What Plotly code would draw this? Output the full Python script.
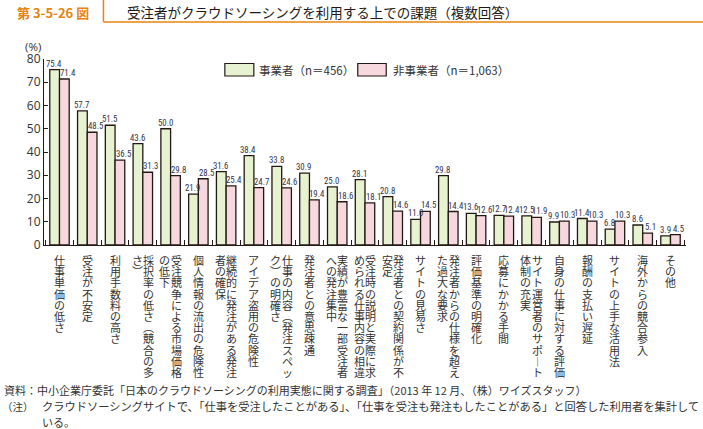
import plotly.graph_objects as go

categories = [
    "仕事単価の低さ", "受注が不安定", "利用手数料の高さ", "採択率の低さ（競合の多さ）",
    "受注競争による市場価格の低下", "個人情報の流出の危険性", "継続的に発注がある発注者の確保",
    "アイデア盗用の危険性", "仕事の内容（発注スペック）の明確さ", "発注者との意思疎通",
    "実績が豊富な一部受注者への発注集中", "受注時の説明と実際に求められる仕事内容の相違",
    "発注者との契約関係が不安定", "サイトの見易さ", "発注者からの仕様を超えた過大な要求",
    "評価基準の明確化", "応募にかかる手間", "サイト運営者のサポート体制の充実",
    "自身の仕事に対する評価", "報酬の支払い遅延", "サイトの上手な活用法",
    "海外からの競合参入", "その他",
]
business = [75.4, 57.7, 51.5, 43.6, 50.0, 21.9, 31.6, 38.4, 33.8, 30.9, 25.0, 28.1,
            20.8, 11.0, 29.8, 13.6, 12.7, 12.5, 9.9, 11.4, 6.8, 8.6, 3.9]
non_business = [71.4, 48.5, 36.5, 31.3, 29.8, 28.5, 25.4, 24.7, 24.6, 19.4, 18.6, 18.1,
                14.6, 14.5, 14.4, 12.6, 12.4, 11.9, 10.3, 10.3, 10.3, 5.1, 4.5]
series_names = ["事業者（n＝456）", "非事業者（n＝1,063）"]
y_ticks = [0, 10, 20, 30, 40, 50, 60, 70, 80]

GREEN = "#E7F2D0"
PINK = "#F8D8DF"
EDGE = "#231815"
ORANGE = "#E8830F"
TXT = "#333333"
VAL = "#34344a"
JP = "Noto Sans CJK JP"
NARROW = "Liberation Sans Narrow, Roboto Condensed, DejaVu Sans Condensed, sans-serif"

W, H = 703, 429
L, R, T, B = 43.5, 17, 59, 184
pw, ph = W - L - R, H - T - B


def px(xv):
    return (xv - L) / pw


def py(yv):
    return (H - B - yv) / ph


fig = go.Figure()
for vals, name, col in [(business, series_names[0], GREEN), (non_business, series_names[1], PINK)]:
    fig.add_trace(go.Bar(
        x=categories, y=vals, name=name,
        marker=dict(color=col, line=dict(color=EDGE, width=1.3)),
        showlegend=False, hoverinfo="skip",
    ))

fig.update_layout(
    width=W, height=H,
    margin=dict(l=L, r=R, t=T, b=B, autoexpand=False),
    paper_bgcolor="white", plot_bgcolor="white",
    barmode="group", bargap=0.30, bargroupgap=0,
    font=dict(family=JP, color=TXT),
    xaxis=dict(showline=True, linecolor=EDGE, linewidth=1.2, ticks="inside",
               tickson="boundaries", ticklen=5, tickcolor=EDGE, tickwidth=1.2,
               showticklabels=False, showgrid=False, zeroline=False, automargin=False),
    yaxis=dict(range=[0, 80], tickvals=y_ticks, showline=True, linecolor=EDGE,
               linewidth=1.2, ticks="inside", ticklen=4, tickcolor=EDGE,
               tickfont=dict(family="Open Sans", size=12, color=TXT),
               showgrid=False, zeroline=False, automargin=False),
)

ann = []
# value labels above bars
for vals, xs in [(business, -5.5), (non_business, 8)]:
    for cat, v in zip(categories, vals):
        ann.append(dict(x=cat, y=v, xref="x", yref="y", text=f"{v:.1f}", showarrow=False,
                        xanchor="center", yanchor="bottom", xshift=xs, yshift=-1,
                        font=dict(family=NARROW, size=8.8, color=VAL)))

# vertical category labels: one annotation per column, columns right to left
vert_map = {"（": "︵", "）": "︶", "ー": "︱"}
CHUNK = 11
pitch = 11.2
colsp = 11.5
base_size = pitch / 1.3
for cat in categories:
    chunks = [cat[j:j + CHUNK] for j in range(0, len(cat), CHUNK)]
    n = len(chunks)
    for c, chunk in enumerate(chunks):
        xs = ((n - 1) / 2 - c) * colsp
        txt = "<br>".join(f"<span style='font-size:11px'>{vert_map.get(ch, ch)}</span>" for ch in chunk)
        ann.append(dict(x=cat, xref="x", y=0, yref="paper", text=txt,
                        showarrow=False, xanchor="center", yanchor="top", align="center",
                        xshift=xs, yshift=-5,
                        font=dict(family=JP, size=base_size, color=TXT)))

# y unit
ann.append(dict(text="(%)", x=px(32), y=py(46), xref="paper", yref="paper",
                showarrow=False, xanchor="center", yanchor="middle",
                font=dict(family="Open Sans", size=11.5, color=TXT)))

texts = [
    dict(text="<b>第 3-5-26 図</b>", x=14, y=12, size=13, color=ORANGE),
    dict(text="受注者がクラウドソーシングを利用する上での課題（複数回答）", x=125, y=12, size=13.5,
         color="#231815"),
    dict(text=series_names[0], x=257, y=70, size=11.5, color=TXT),
    dict(text=series_names[1], x=391, y=70, size=11.5, color=TXT),
    dict(text="資料：中小企業庁委託「日本のクラウドソーシングの利用実態に関する調査」（2013 年 12 月、（株）ワイズスタッフ）",
         x=1, y=390, size=11, color=TXT),
    dict(text="（注）", x=-1, y=406, size=10.5, color=TXT),
    dict(text="クラウドソーシングサイトで、「仕事を受注したことがある」、「仕事を受注も発注もしたことがある」と回答した利用者を集計して",
         x=39, y=406, size=11.25, color=TXT),
    dict(text="いる。", x=39, y=422, size=11, color=TXT),
]
for a in texts:
    ann.append(dict(text=a["text"], x=px(a["x"]), y=py(a["y"]), xref="paper", yref="paper",
                    showarrow=False, xanchor="left", yanchor="middle",
                    font=dict(family=JP, size=a["size"], color=a["color"])))

fig.update_layout(annotations=ann)

shapes = [
    dict(type="line", x0=px(103), x1=px(703), y0=py(22), y1=py(22),
         xref="paper", yref="paper", line=dict(color=ORANGE, width=1.5)),
    dict(type="line", x0=px(103), x1=px(103), y0=py(0), y1=py(22),
         xref="paper", yref="paper", line=dict(color=ORANGE, width=1.5)),
    dict(type="rect", x0=px(224.5), x1=px(253.5), y0=py(63.5), y1=py(76),
         xref="paper", yref="paper", fillcolor=GREEN, line=dict(color=EDGE, width=1.2)),
    dict(type="rect", x0=px(357.5), x1=px(386), y0=py(63.5), y1=py(76),
         xref="paper", yref="paper", fillcolor=PINK, line=dict(color=EDGE, width=1.2)),
]
fig.update_layout(shapes=shapes)

fig.write_html("out.html", config={"displayModeBar": False},
               post_script="document.body.style.margin='0';")
